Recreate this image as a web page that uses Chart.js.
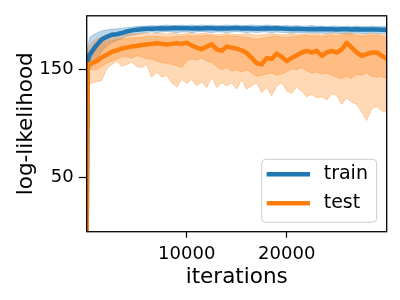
<!DOCTYPE html>
<html><head><meta charset="utf-8">
<script src="https://cdn.jsdelivr.net/npm/chart.js@4/dist/chart.umd.min.js"></script>
<style>html,body{margin:0;padding:0;background:#fff}#wrap{width:400px;height:300px}</style>
</head><body><div id="wrap"><canvas id="c" width="400" height="300"></canvas></div>
<script>
const iterations = [0,100,300,600,1000,1500,2000,2500,3000,3500,4000,4500,5000,5500,6000,6500,7000,7500,8000,8500,9000,9500,10000,10500,11000,11500,12000,12500,13000,13500,14000,14500,15000,15500,16000,16500,17000,17500,18000,18500,19000,19500,20000,20500,21000,21500,22000,22500,23000,23500,24000,24500,25000,25500,26000,26500,27000,27500,28000,28500,29000,29500,30000];

const trainMean = [0,158,164,168, 173,178,180.5,182.5,183,184,185.5,186.5,187,187.5, 188,188,188.3,188.5,188.3,188.5,188.6,188.4, 188.5,188.2,188.5,188.3,188.6,188.4,188.2,188.5,188.3,188.5, 188.6,188.3,188.4,188.2,188,188.3,188.5,188.2,188.4,188.2, 188,187.8,188,187.8,187.6,187.8,187.5,187.7,187.5,187.6, 187.4,187.6,187.5,187.3,187.5,187.3,187.4,187.2,187.3,187.1,187];
const trainLo = [0,145,150,155, 160,167,172,175,177,179,181,182,183,184, 184.5,185,184.5,185,185.5,185,184.5,185, 185,184.5,185,185.5,185,184.5,185,185,184.5,185, 185.5,185,184.5,185,184.5,185,185,184.5,185,184.5, 184.5,184,184.5,184,184,184.5,184,184,183.5,184, 184,183.5,184,183.5,184,183.5,183.5,184,183.5,183.5,183];
const trainHi = [2,170,180,182, 184,186,187,187.5,188,188.5,189,189.5,190,190.5, 190.5,191,190.5,191,191.5,191,191,191.5, 191,191.5,191,191.5,191,191.5,191,191,191.5,191, 191.5,191,191,191.5,191,191,191.5,191,191,190.5, 191,190.5,191,190.5,190.5,191,190.5,190.5,190,190.5, 190.5,190,190.5,190,190.5,190,190,190.5,190,190,190];

const testMean = [0,155,155.5,156.5, 158,161.5,164,166.5,168,169.5,170.5,171.5,172,173, 173.5,174,174.5,174,173.5,174,174.5,174, 175,172.5,170.5,169,171.5,173.5,169,167.5,171.5,170.5, 169.5,168,165.5,161,156,155,161,160,165,162, 158,161,163.5,166,167.5,166,167.5,163,166,167.5, 166,169,175,170.5,166,163,164.5,166,166,163,160];
const testInnerLo = [0,150,151,150, 150,153,156,158,160,162,162,161,163,162, 160,160,158,157,156,155,154,152, 158,160,159,161,158,157,153,150,152,149, 150,148,150,147,144,145,146,147,145,146, 148,151,150,152,149,147,148,146,147,145, 143,142,144,142,146,145,147,144,143,144,141];
const testInnerHi = [3,160,165,170, 173,175,176,177,178,178.5,179,179.5,180,180, 181,180.5,181,180.5,180,180.5,181,180.5, 182,181,181.5,181,182,181.5,181,180.5,182,181, 181,180.5,180,179,178.5,179,180,180.5,181,180, 180,180.5,181,181.5,182,181,181.5,180.5,181.5,182, 181,182,183,182.5,181.5,181,181.5,182,182,181,180];
const testOuterLo = [0,135,137,138, 139,140,151,155,158,153,155,157,153,152, 155,143,148,143,145,138,134,141, 137,141,135,139,133.5,143,133.5,138,135,138, 132,141,132,135,138,129,133.5,126,135,138, 130.5,128,134,130,125,127,124,125,122,128, 126,118,124,120,118,111,103,114,116,112,110.5];
const testOuterHi = [5,165,172,176, 179,180,181,182,182.5,183,183,183.5,183,184, 183.5,183,184,183.5,183,184,183.5,183, 183.5,184,183,183.5,184,183,182.5,183,183.5,183, 182.5,183,183.5,183,182,182.5,183,183.5,183,182.5, 183,183.5,183,182.5,183,183.5,183,182.5,183,183.5, 183,183.5,184,183.5,183,182.5,183,183.5,183,182.5,182];

const seriesLabels = ['train', 'test'];
const xTicks = [10000, 20000];
const yTicks = [50, 150];
const xTitle = 'iterations';
const yTitle = 'log-likelihood';

const BLUE = '#1f77b4', ORANGE = '#ff7f0e';
const BLUE_BAND = 'rgba(31,119,180,0.3)', ORANGE_BAND = 'rgba(255,127,14,0.3)';
const FONT = "'DejaVu Sans', sans-serif";

function pts(ys) { return iterations.map((x, i) => ({x: x, y: ys[i]})); }
function band(ys, color, fillTarget, order) {
  return {label: '', data: pts(ys), borderColor: color, backgroundColor: color, borderWidth: 1,
    pointRadius: 0, tension: 0, fill: fillTarget, order: order, clip: 0};
}

const datasets = [
  {label: seriesLabels[1], data: pts(testMean), borderColor: ORANGE, backgroundColor: ORANGE, borderWidth: 4.5,
    pointRadius: 0, tension: 0, fill: false, order: 0, clip: 0, borderJoinStyle: 'round'},
  {label: seriesLabels[0], data: pts(trainMean), borderColor: BLUE, backgroundColor: BLUE, borderWidth: 4.5,
    pointRadius: 0, tension: 0, fill: false, order: 1, clip: 0, borderJoinStyle: 'round'},
  band(testOuterLo, ORANGE_BAND, false, 3),
  band(testOuterHi, ORANGE_BAND, 2, 3),
  band(testInnerLo, ORANGE_BAND, false, 3),
  band(testInnerHi, ORANGE_BAND, 4, 3),
  band(trainLo, BLUE_BAND, false, 4),
  band(trainHi, BLUE_BAND, 6, 4)
];

const framePlugin = {
  id: 'frame',
  afterDatasetsDraw(chart) {
    const a = chart.chartArea, ctx = chart.ctx;
    ctx.save();
    ctx.strokeStyle = '#000';
    ctx.lineWidth = 1.3;
    ctx.strokeRect(a.left, a.top, a.right - a.left, a.bottom - a.top);
    ctx.restore();
  }
};

const legendPlugin = {
  id: 'mplLegend',
  afterDraw(chart) {
    const a = chart.chartArea, ctx = chart.ctx;
    const w = 115, h = 63;
    const x = a.right - 10 - w, y = a.bottom - 9.4 - h;
    ctx.save();
    ctx.beginPath();
    ctx.roundRect(x, y, w, h, 4);
    ctx.fillStyle = 'rgba(255,255,255,0.8)';
    ctx.fill();
    ctx.strokeStyle = 'rgba(204,204,204,1)';
    ctx.lineWidth = 1;
    ctx.stroke();
    const items = [chart.data.datasets[1], chart.data.datasets[0]];
    items.forEach((ds, i) => {
      const yy = y + 15 + i * 29;
      ctx.beginPath();
      ctx.strokeStyle = ds.borderColor;
      ctx.lineWidth = 4.5;
      ctx.moveTo(x + 5, yy);
      ctx.lineTo(x + 48.3, yy);
      ctx.stroke();
      ctx.fillStyle = '#000';
      ctx.font = '19px ' + FONT;
      ctx.textBaseline = 'middle';
      ctx.textAlign = 'left';
      ctx.fillText(ds.label, x + 62, yy);
    });
    ctx.restore();
  }
};

new Chart(document.getElementById('c'), {
  type: 'line',
  data: {datasets: datasets},
  options: {
    responsive: false, animation: false, devicePixelRatio: 1,
    layout: {padding: {left: 0, right: 13.3, top: 14.7, bottom: 0}},
    plugins: {legend: {display: false}, tooltip: {enabled: false}, filler: {propagate: false}},
    scales: {
      x: {
        type: 'linear', min: 0, max: 30000,
        afterBuildTicks: s => { s.ticks = xTicks.map(v => ({value: v})); },
        afterFit: s => { s.height = 68.3; },
        ticks: {font: {family: FONT, size: 18}, color: '#000', padding: 6, maxRotation: 0, autoSkip: false,
          callback: v => String(v)},
        grid: {display: true, drawOnChartArea: false, tickLength: 6, tickColor: '#000', tickWidth: 1.2},
        border: {display: false},
        title: {display: true, text: xTitle, color: '#000', font: {family: FONT, size: 21.5}, padding: {top: 0, bottom: 10}}
      },
      y: {
        type: 'linear', min: 0, max: 200,
        afterBuildTicks: s => { s.ticks = yTicks.map(v => ({value: v})); },
        afterFit: s => { s.width = 86.7; },
        ticks: {font: {family: FONT, size: 18}, color: '#000', padding: 5, autoSkip: false,
          callback: v => String(v)},
        grid: {display: true, drawOnChartArea: false, tickLength: 8, tickColor: '#000', tickWidth: 1.2},
        border: {display: false},
        title: {display: true, text: yTitle, color: '#000', font: {family: FONT, size: 21.5}, padding: {top: 14, bottom: 0}}
      }
    }
  },
  plugins: [framePlugin, legendPlugin]
});
</script>
</body></html>
